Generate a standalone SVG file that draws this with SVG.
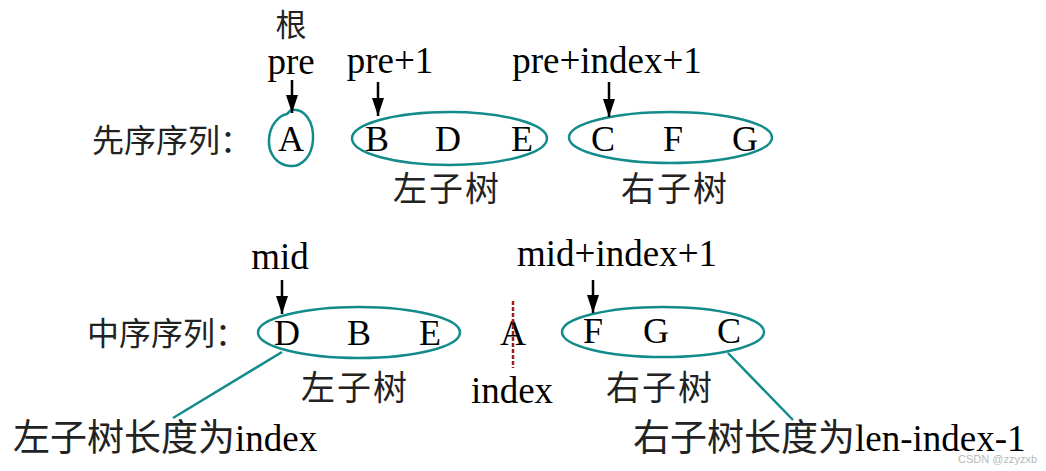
<svg xmlns="http://www.w3.org/2000/svg" width="1046" height="471" viewBox="0 0 1046 471">
<defs>
<marker id="ah" viewBox="0 0 18 12" refX="18" refY="6" markerWidth="18" markerHeight="12" markerUnits="userSpaceOnUse" orient="auto">
<path d="M0,0 L18,6 L0,12 Z" fill="#000"/>
</marker>
<style>
.lat{font-family:"Liberation Serif","Times New Roman",serif;font-size:37px;fill:#000}
.let{font-family:"Liberation Serif","Times New Roman",serif;font-size:36px;fill:#000;text-anchor:middle}
.cjk{font-family:"Noto Sans CJK SC","Liberation Serif",sans-serif;fill:#222}
.ell{fill:none;stroke:#138b8b;stroke-width:2.5}
.arr{stroke:#000;stroke-width:2.5;fill:none}
.lead{stroke:#138b8b;stroke-width:2.5;fill:none}
</style>
</defs>
<rect width="1046" height="471" fill="#fff"/>

<g id="preorder-label"><text class="cjk" x="92" y="152" font-size="32">先序序列：</text></g>
<g id="root-label">
<text class="cjk" x="291" y="36" font-size="31" text-anchor="middle">根</text>
<text class="lat" x="291" y="74" text-anchor="middle">pre</text>
</g>
<g id="pre1-label"><text class="lat" x="390" y="73" text-anchor="middle">pre+1</text></g>
<g id="preidx-label"><text class="lat" x="607" y="73" text-anchor="middle">pre+index+1</text></g>

<g id="pre-root">
<path class="ell" d="M291,110 C305,108 314,122 313,140 C312,156 302,167 290,166 C277,165 268,154 269,139 C270,124 280,115 287,114 Z"/>
<text class="let" x="291" y="151">A</text>
</g>
<g id="pre-left">
<ellipse class="ell" cx="449.5" cy="138.5" rx="97.5" ry="26.5"/>
<text class="let" x="377" y="151">B</text>
<text class="let" x="448" y="151">D</text>
<text class="let" x="522" y="151">E</text>
<text class="cjk" x="393" y="201" font-size="34" letter-spacing="2">左子树</text>
</g>
<g id="pre-right">
<ellipse class="ell" cx="670.5" cy="137.5" rx="101.5" ry="25.5"/>
<text class="let" x="603" y="151">C</text>
<text class="let" x="673" y="151">F</text>
<text class="let" x="745" y="151">G</text>
<text class="cjk" x="621" y="201" font-size="34" letter-spacing="2">右子树</text>
</g>

<g id="inorder-label"><text class="cjk" x="87" y="345" font-size="32">中序序列：</text></g>
<g id="mid-label"><text class="lat" x="280" y="269" text-anchor="middle">mid</text></g>
<g id="mididx-label"><text class="lat" x="617" y="266" text-anchor="middle">mid+index+1</text></g>

<g id="in-left">
<ellipse class="ell" cx="359" cy="332.5" rx="101" ry="25.5"/>
<text class="let" x="287" y="345">D</text>
<text class="let" x="359" y="345">B</text>
<text class="let" x="430" y="345">E</text>
<text class="cjk" x="301" y="400" font-size="34" letter-spacing="2">左子树</text>
</g>
<g id="in-root">
<text class="let" x="513" y="345">A</text>
<line x1="513" y1="301" x2="513" y2="368" stroke="#a01c1c" stroke-width="2.5" stroke-dasharray="4,2"/>
<text class="lat" x="512" y="403" text-anchor="middle">index</text>
</g>
<g id="in-right">
<ellipse class="ell" cx="663" cy="332" rx="101" ry="25"/>
<text class="let" x="593" y="343">F</text>
<text class="let" x="656" y="343">G</text>
<text class="let" x="729" y="343">C</text>
<text class="cjk" x="606" y="400" font-size="34" letter-spacing="2">右子树</text>
</g>

<g id="left-len"><text x="13" y="451" font-size="37"><tspan class="cjk">左子树长度为</tspan><tspan class="lat">index</tspan></text></g>
<g id="right-len"><text x="633" y="451" font-size="37"><tspan class="cjk">右子树长度为</tspan><tspan class="lat">len-index-1</tspan></text></g>

<g id="connectors">
<line class="arr" x1="292" y1="80" x2="292" y2="113" marker-end="url(#ah)"/>
<line class="arr" x1="378" y1="82" x2="378" y2="116" marker-end="url(#ah)"/>
<line class="arr" x1="609" y1="82" x2="609" y2="117" marker-end="url(#ah)"/>
<line class="arr" x1="282" y1="280" x2="282" y2="314" marker-end="url(#ah)"/>
<line class="arr" x1="593" y1="280" x2="593" y2="313" marker-end="url(#ah)"/>
<line class="lead" x1="282" y1="352" x2="173" y2="418"/>
<line class="lead" x1="728" y1="353" x2="793" y2="420"/>
</g>

<text x="958" y="463" font-family="Liberation Sans, Arial, sans-serif" font-size="11" fill="#b8b8b8">CSDN @zzyzxb</text>
</svg>
